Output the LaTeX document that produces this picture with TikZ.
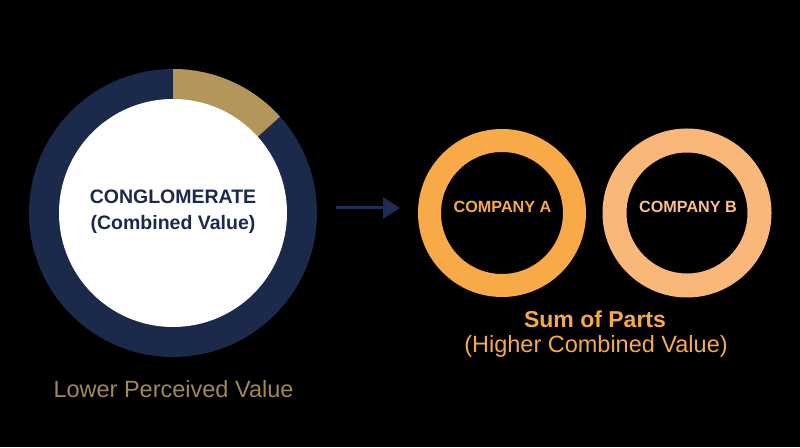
\documentclass[tikz,border=0pt]{standalone}
\usepackage{fontspec}
\setmainfont{Liberation Sans}
\usetikzlibrary{arrows.meta}
\definecolor{navy}{HTML}{1B2A4A}
\definecolor{goldseg}{HTML}{B4955A}
\definecolor{goldtxt}{HTML}{A08858}
\definecolor{orangeA}{HTML}{F8AA48}
\definecolor{peachB}{HTML}{F9B77A}
\definecolor{peachtxt}{HTML}{F8C08C}
\definecolor{sumtxt}{HTML}{F5AB4B}
\definecolor{arrowc}{HTML}{1F2E50}
\begin{document}
\begin{tikzpicture}[x=1pt,y=1pt,
  ringA/.style={circle, draw=orangeA, line width=23pt, minimum size=145pt, inner sep=0pt},
  ringB/.style={circle, draw=peachB, line width=24pt, minimum size=145pt, inner sep=0pt},
  lbl/.style={anchor=base, inner sep=0pt}]
\useasboundingbox (0,0) rectangle (800,447);
\fill[black] (0,0) rectangle (800,447);
% conglomerate donut
\node[circle, fill=navy, minimum size=288pt, inner sep=0pt] (big) at (173,234) {};
\fill[goldseg] (big.center) -- ++(90:144) arc[start angle=90, end angle=42, radius=144] -- cycle;
\node[circle, fill=white, minimum size=228pt, inner sep=0pt] (bigin) at (big.center) {};
\node[lbl, text=navy, font=\bfseries\fontsize{19.5}{23}\selectfont] (t1) at (173,243) {CONGLOMERATE};
\node[lbl, text=navy, font=\bfseries\fontsize{19.5}{23}\selectfont] (t2) at (173,217) {(Combined Value)};
\node[lbl, text=goldtxt, font=\fontsize{23.5}{28}\selectfont] (t3) at (173.5,49) {Lower Perceived Value};
% companies
\node[ringA] (ca) at (502,234) {};
\node[ringB] (cb) at (687,234) {};
\node[lbl, text=orangeA, font=\bfseries\fontsize{16.2}{19}\selectfont] (ta) at (502.5,234) {COMPANY A};
\node[lbl, text=peachtxt, font=\bfseries\fontsize{16.2}{19}\selectfont] (tb) at (688,234) {COMPANY B};
\node[lbl, text=sumtxt, font=\bfseries\fontsize{23}{27}\selectfont] (s1) at (595,119) {Sum of Parts};
\node[lbl, text=sumtxt, font=\fontsize{23.5}{28}\selectfont] (s2) at (596,94) {(Higher Combined Value)};
% arrow
\draw[arrowc, line width=3pt, -{Triangle[length=17pt,width=21pt]}, shorten <=19pt, shorten >=18pt]
  ([yshift=5pt]big.east) -- ([yshift=5pt]ca.west);
\end{tikzpicture}
\end{document}
